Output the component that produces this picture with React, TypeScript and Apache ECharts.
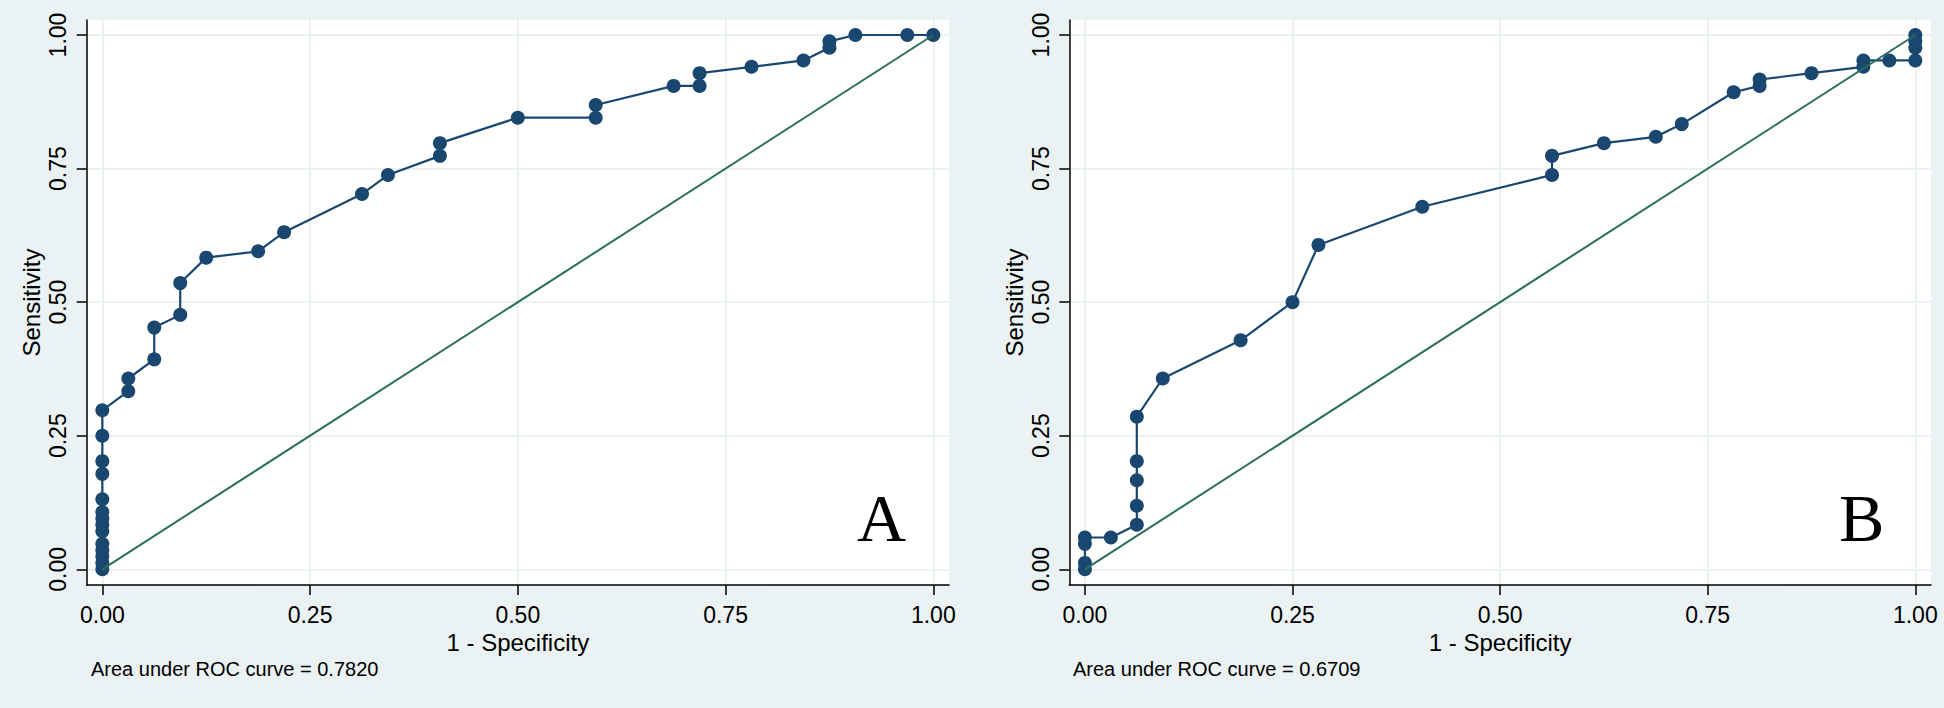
import React, { useEffect, useRef } from "react";
import * as echarts from "echarts";

// Tick values shared by both axes
const TICKS = [0, 0.25, 0.5, 0.75, 1];

// Panel A: ROC curve points (1 - specificity, sensitivity)
const rocA_x = [
  0, 0, 0, 0, 0, 0, 0, 0, 0, 0, 0, 0, 0, 0,
  0.03125, 0.03125, 0.0625, 0.0625, 0.09375, 0.09375, 0.125, 0.1875, 0.21875,
  0.3125, 0.34375, 0.40625, 0.40625, 0.5, 0.59375, 0.59375, 0.6875, 0.71875,
  0.71875, 0.78125, 0.84375, 0.875, 0.875, 0.90625, 0.96875, 1,
];
const rocA_y = [
  0, 0.0119, 0.0238, 0.0357, 0.0476, 0.0714, 0.0833, 0.0952, 0.1071, 0.131,
  0.1786, 0.2024, 0.25, 0.2976,
  0.3333, 0.3571, 0.3929, 0.4524, 0.4762, 0.5357, 0.5833, 0.5952, 0.631,
  0.7024, 0.7381, 0.7738, 0.7976, 0.8452, 0.8452, 0.869, 0.9048, 0.9048,
  0.9286, 0.9405, 0.9524, 0.9762, 0.9881, 1, 1, 1,
];

// Panel B: ROC curve points
const rocB_x = [
  0, 0, 0, 0, 0.03125, 0.0625, 0.0625, 0.0625, 0.0625, 0.0625, 0.09375,
  0.1875, 0.25, 0.28125, 0.40625, 0.5625, 0.5625, 0.625, 0.6875, 0.71875,
  0.78125, 0.8125, 0.8125, 0.875, 0.9375, 0.9375, 0.96875, 1, 1, 1, 1,
];
const rocB_y = [
  0, 0.0119, 0.0476, 0.0595, 0.0595, 0.0833, 0.119, 0.1667, 0.2024, 0.2857,
  0.3571, 0.4286, 0.5, 0.6071, 0.6786, 0.7381, 0.7738, 0.7976, 0.8095,
  0.8333, 0.8929, 0.9048, 0.9167, 0.9286, 0.9405, 0.9524, 0.9524, 0.9524,
  0.9762, 0.9881, 1,
];

// Reference (chance) line
const refX = [0, 1];
const refY = [0, 1];

const aucLabels = ["Area under ROC curve = 0.7820", "Area under ROC curve = 0.6709"];
const panelLetters = ["A", "B"];

const BG = "#EAF2F3";
const NAVY = "#1A476F";
const GREEN = "#2B6E5A";
const SANS = "Liberation Sans, Arial, sans-serif";
const SERIF = "Liberation Serif, Times New Roman, serif";

const zip = (xs: number[], ys: number[]) => xs.map((x, i) => [x, ys[i]]);

function xAxisFor(gridIndex: number) {
  return {
    type: "value",
    gridIndex,
    min: -0.0188,
    max: 1.0189,
    axisLine: { show: true, onZero: false, lineStyle: { color: "#000", width: 1.5 } },
    axisTick: { show: true, inside: false, length: 10, customValues: TICKS, lineStyle: { color: "#000", width: 1.5 } },
    axisLabel: {
      customValues: TICKS,
      formatter: (v: number) => v.toFixed(2),
      fontFamily: SANS,
      fontSize: 23,
      color: "#000",
      margin: 18,
    },
    splitLine: { show: true, lineStyle: { color: BG, width: 2 } },
    name: "1 - Specificity",
    nameLocation: "middle",
    nameGap: 41,
    nameTextStyle: { fontFamily: SANS, fontSize: 24, color: "#000" },
  };
}

function yAxisFor(gridIndex: number) {
  return {
    type: "value",
    gridIndex,
    min: -0.0294,
    max: 1.0281,
    axisLine: { show: true, onZero: false, lineStyle: { color: "#000", width: 1.5 } },
    axisTick: { show: true, inside: false, length: 10, customValues: TICKS, lineStyle: { color: "#000", width: 1.5 } },
    axisLabel: {
      customValues: TICKS,
      formatter: (v: number) => v.toFixed(2),
      fontFamily: SANS,
      fontSize: 23,
      color: "#000",
      rotate: 90,
      margin: 17,
    },
    splitLine: { show: true, lineStyle: { color: BG, width: 2 } },
    name: "Sensitivity",
    nameLocation: "middle",
    nameGap: 43,
    nameTextStyle: { fontFamily: SANS, fontSize: 24, color: "#000" },
  };
}

function rocSeries(idx: number, data: number[][]) {
  return {
    type: "line",
    xAxisIndex: idx,
    yAxisIndex: idx,
    data,
    symbol: "circle",
    symbolSize: 14,
    showAllSymbol: true,
    itemStyle: { color: NAVY },
    lineStyle: { color: NAVY, width: 2.2 },
    z: 2,
  };
}

function refSeries(idx: number) {
  return {
    type: "line",
    xAxisIndex: idx,
    yAxisIndex: idx,
    data: zip(refX, refY),
    symbol: "none",
    lineStyle: { color: GREEN, width: 2 },
    z: 3,
  };
}

export default function App() {
  const ref = useRef<HTMLDivElement>(null);
  useEffect(() => {
    if (!ref.current) return;
    const chart = echarts.init(ref.current, null, { renderer: "svg" });
    const grids = [
      { left: 86.7, top: 20, width: 862.3, height: 565 },
      { left: 1069.3, top: 20, width: 861.7, height: 565 },
    ];
    chart.setOption({
      animation: false,
      backgroundColor: BG,
      grid: grids.map((g) => ({ ...g, show: true, backgroundColor: "#fff", borderWidth: 0, containLabel: false })),
      xAxis: [xAxisFor(0), xAxisFor(1)],
      yAxis: [yAxisFor(0), yAxisFor(1)],
      series: [
        rocSeries(0, zip(rocA_x, rocA_y)),
        refSeries(0),
        rocSeries(1, zip(rocB_x, rocB_y)),
        refSeries(1),
      ],
      graphic: [
        {
          type: "text",
          left: 91,
          top: 659,
          style: { text: aucLabels[0], fontFamily: SANS, fontSize: 20, fill: "#000" },
        },
        {
          type: "text",
          left: 1073,
          top: 659,
          style: { text: aucLabels[1], fontFamily: SANS, fontSize: 20, fill: "#000" },
        },
        {
          type: "text",
          x: 881.5,
          y: 518,
          style: { text: panelLetters[0], fontFamily: SERIF, fontSize: 68, fill: "#000", align: "center", verticalAlign: "middle" },
          z: 10,
        },
        {
          type: "text",
          x: 1861.7,
          y: 518,
          style: { text: panelLetters[1], fontFamily: SERIF, fontSize: 68, fill: "#000", align: "center", verticalAlign: "middle" },
          z: 10,
        },
      ],
    });
    return () => chart.dispose();
  }, []);
  return (
    <div
      ref={ref}
      style={{ position: "absolute", left: 0, top: 0, width: 1944, height: 708 }}
    />
  );
}
